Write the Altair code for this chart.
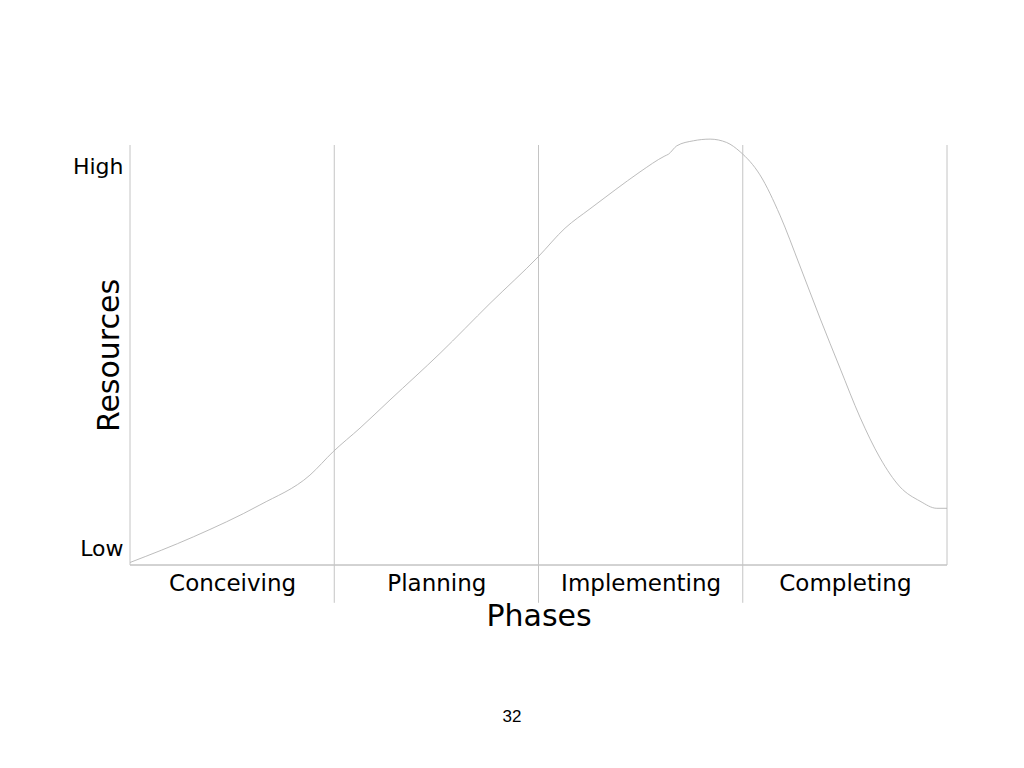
import altair as alt
import pandas as pd

# Curve: x in phase units (0..4), y in resource units (Low=0 .. High=100)
phase_pos = [0.000, 0.310, 0.636, 0.881, 0.995, 1.126, 1.273, 1.518, 1.763,
             1.999, 2.130, 2.252, 2.375, 2.497, 2.619, 2.636, 2.677, 2.758, 2.840,
             2.921, 2.987, 3.084, 3.182, 3.280, 3.378, 3.476, 3.574, 3.672, 3.770,
             3.868, 3.950, 4.000]
resources = [0.6, 6.7, 14.3, 21.4, 27.0, 32.6, 39.3, 50.4, 62.3,
             73.4, 80.2, 84.8, 89.3, 93.6, 97.4, 97.8, 99.8, 101.0, 101.4,
             100.6, 98.4, 92.9, 83.3, 71.2, 58.8, 46.9, 35.2, 25.5, 18.6,
             15.2, 13.5, 13.5]

phases = ["Conceiving", "Planning", "Implementing", "Completing"]
dividers = [1, 2, 3]
borders = [0, 4]
level_labels = ["Low", "High"]
level_values = [4, 95]
page_number = "32"

FONT = "DejaVu Sans"
LINE = "#c4c4c4"

curve_df = pd.DataFrame({"x": phase_pos, "y": resources})
div_df = pd.DataFrame({"x": dividers})
border_df = pd.DataFrame({"x": borders})

xs = alt.Scale(domain=[0, 4], nice=False, zero=False)
ys = alt.Scale(domain=[0, 100], nice=False, zero=False)

label_expr_x = "[" + ",".join("'%s'" % p for p in phases) + "][floor(datum.value)]"
label_expr_y = "datum.value > 50 ? '%s' : '%s'" % (level_labels[1], level_labels[0])

x_axis = alt.Axis(values=[0.5, 1.5, 2.5, 3.5], labelExpr=label_expr_x, ticks=False, tickSize=0,
                  domain=False, grid=False, labelFont=FONT, labelFontSize=23, labelColor="black",
                  labelBaseline="alphabetic", labelPadding=25, labelAngle=0,
                  title="Phases", titleFont=FONT, titleFontSize=30, titleFontWeight="normal",
                  titleColor="black", titleBaseline="alphabetic", titleY=60)
y_axis = alt.Axis(values=level_values, labelExpr=label_expr_y, ticks=False, tickSize=0,
                  domain=False, grid=False, labelFont=FONT, labelFontSize=22, labelColor="black",
                  labelPadding=7, labelBaseline="middle",
                  title="Resources", titleFont=FONT, titleFontSize=30, titleFontWeight="normal",
                  titleColor="black", titleAngle=-90, titleBaseline="alphabetic",
                  titleAlign="center", titleX=-12, titleY=210)

curve = alt.Chart(curve_df).mark_line(color="#b4b4b4", strokeWidth=0.9, interpolate="monotone", clip=False).encode(
    x=alt.X("x:Q", scale=xs, axis=x_axis),
    y=alt.Y("y:Q", scale=ys, axis=y_axis),
)

div_rules = alt.Chart(div_df).mark_rule(color=LINE, strokeWidth=1, clip=False).encode(
    x=alt.X("x:Q", scale=xs, axis=x_axis),
    y=alt.datum(100, scale=ys, axis=y_axis),
    y2=alt.datum(-9),
)

border_rules = alt.Chart(border_df).mark_rule(color=LINE, strokeWidth=1, clip=False).encode(
    x=alt.X("x:Q", scale=xs, axis=x_axis),
    y=alt.datum(100, scale=ys, axis=y_axis),
    y2=alt.datum(0),
)

base_rule = alt.Chart(border_df).mark_rule(color=LINE, strokeWidth=1, clip=False).encode(
    x=alt.datum(0, scale=xs, axis=x_axis),
    x2=alt.datum(4),
    y=alt.datum(0, scale=ys, axis=y_axis),
)

page = alt.Chart(pd.DataFrame({"t": [page_number]})).mark_text(
    font="Liberation Sans", fontSize=17, color="black", align="center", baseline="middle"
).encode(x=alt.value(382), y=alt.value(572), text="t:N")

chart = alt.layer(div_rules, border_rules, base_rule, curve, page).properties(
    width=817, height=420,
    autosize=alt.AutoSizeParams(type="none"),
    padding={"left": 122, "top": 137, "right": 69, "bottom": 195},
    background="white",
).configure_view(stroke=None)

chart.save("out.html", embed_options={"renderer": "svg", "actions": False})
